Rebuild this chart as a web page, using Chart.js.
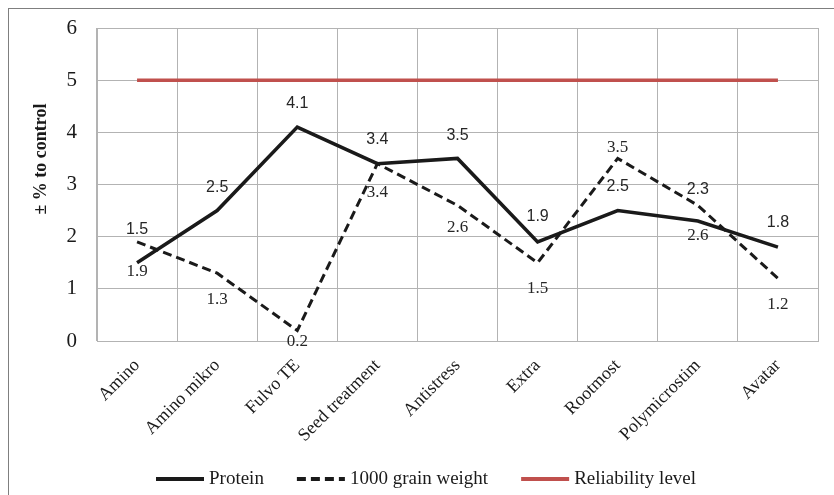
<!DOCTYPE html>
<html>
<head>
<meta charset="utf-8">
<script src="https://cdn.jsdelivr.net/npm/chart.js@4.4.1/dist/chart.umd.min.js"></script>
<style>
  html, body { margin: 0; padding: 0; background: #fff; }
</style>
</head>
<body>
<canvas id="chart" width="834" height="495"></canvas>
<script>
const categories = ['Amino', 'Amino mikro', 'Fulvo TE', 'Seed treatment', 'Antistress', 'Extra', 'Rootmost', 'Polymicrostim', 'Avatar'];
const protein = [1.5, 2.5, 4.1, 3.4, 3.5, 1.9, 2.5, 2.3, 1.8];
const grainWeight = [1.9, 1.3, 0.2, 3.4, 2.6, 1.5, 3.5, 2.6, 1.2];
const reliability = [5, 5, 5, 5, 5, 5, 5, 5, 5];
const yMin = 0, yMax = 6, yStep = 1;
const yTitle = '± % to control';

// label offsets (px) from each point, as in the original figure
const proteinLabelDy = [-33, -23, -24, -24, -23, -25, -24, -31, -25];
const grainLabelDy = [30, 26, 11, 29, 22, 26, -11, 30, 26];

const serif = '"Liberation Serif", "Times New Roman", serif';
const sans = '"Liberation Sans", Arial, sans-serif';

const extras = {
    id: 'extras',
    afterDatasetsDraw(chart) {
        const ctx = chart.ctx;
        ctx.save();
        ctx.textAlign = 'center';
        ctx.textBaseline = 'middle';
        ctx.fillStyle = '#262626';
        const sets = [[0, proteinLabelDy, '16px ' + sans], [1, grainLabelDy, '17px ' + serif]];
        sets.forEach(([i, dy, font]) => {
            ctx.font = font;
            const meta = chart.getDatasetMeta(i);
            meta.data.forEach((pt, j) => {
                const v = chart.data.datasets[i].data[j];
                ctx.fillText(v.toFixed(1), pt.x, pt.y + dy[j]);
            });
        });
        ctx.restore();
    },
    afterDraw(chart) {
        const ctx = chart.ctx;
        ctx.save();
        // outer frame
        ctx.strokeStyle = '#7f7f7f';
        ctx.lineWidth = 1;
        ctx.strokeRect(8.5, 8.5, 900, 600);
        // y axis title
        ctx.translate(41, 159);
        ctx.rotate(-Math.PI / 2);
        ctx.font = 'bold 18px ' + serif;
        ctx.fillStyle = '#1a1a1a';
        ctx.textAlign = 'center';
        ctx.textBaseline = 'middle';
        ctx.fillText(yTitle, 0, 0);
        ctx.restore();
        // legend
        ctx.save();
        ctx.font = '19px ' + serif;
        ctx.textBaseline = 'middle';
        let x = 156;
        const y = 479;
        chart.data.datasets.forEach(ds => {
            ctx.strokeStyle = ds.borderColor;
            ctx.lineWidth = 4;
            ctx.setLineDash(ds.borderDash || []);
            ctx.beginPath();
            ctx.moveTo(x, y);
            ctx.lineTo(x + 48, y);
            ctx.stroke();
            ctx.setLineDash([]);
            ctx.fillStyle = '#1a1a1a';
            ctx.fillText(ds.label, x + 53, y);
            x += 53 + ctx.measureText(ds.label).width + 33;
        });
        ctx.restore();
    }
};

const ctx = document.getElementById('chart').getContext('2d');
const chart = new Chart(ctx, {
    type: 'line',
    data: {
        labels: categories,
        datasets: [
            { label: 'Protein', data: protein, borderColor: '#1a1a1a', borderWidth: 3.5, pointRadius: 0, tension: 0 },
            { label: '1000 grain weight', data: grainWeight, borderColor: '#1a1a1a', borderWidth: 3, borderDash: [9, 5], pointRadius: 0, tension: 0 },
            { label: 'Reliability level', data: reliability, borderColor: '#c0504d', borderWidth: 3.5, pointRadius: 0, tension: 0 },
        ],
    },
    options: {
        responsive: false,
        animation: false,
        layout: { padding: { top: 28, right: 16, left: 0, bottom: 0 } },
        plugins: { legend: { display: false }, tooltip: { enabled: false } },
        scales: {
            x: {
                offset: true,
                grid: { offset: true, color: '#b3b3b3', drawTicks: false },
                border: { color: '#b3b3b3' },
                ticks: { minRotation: 45, maxRotation: 45, padding: 14, color: '#1a1a1a', font: { family: serif, size: 18 } },
                afterFit: s => { s.height = 154; },
            },
            y: {
                min: yMin, max: yMax,
                grid: { color: '#b3b3b3', drawTicks: true, tickLength: 17, tickColor: 'rgba(0,0,0,0)' },
                border: { color: '#b3b3b3' },
                ticks: { stepSize: yStep, padding: 3, color: '#1a1a1a', font: { family: serif, size: 21 } },
                afterFit: s => { s.width = 97; },
            },
        },
    },
    plugins: [extras],
});
</script>
</body>
</html>
